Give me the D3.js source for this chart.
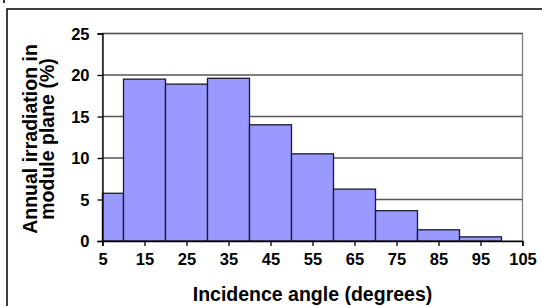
<!DOCTYPE html>
<html>
<head>
<meta charset="utf-8">
<script src="https://cdn.jsdelivr.net/npm/d3@7"></script>
<style>
html,body{margin:0;padding:0;background:#fff;}
svg{display:block;}
text{font-family:"Liberation Sans",Arial,sans-serif;font-weight:bold;fill:#000;}
</style>
</head>
<body>
<svg id="chart" width="542" height="306"></svg>
<script>
// Data
const binStart = [5, 10, 20, 30, 40, 50, 60, 70, 80, 90];
const binEnd   = [10, 20, 30, 40, 50, 60, 70, 80, 90, 100];
const values   = [5.75, 19.5, 18.9, 19.6, 14.0, 10.5, 6.25, 3.65, 1.35, 0.5];
const xTicks = [5, 15, 25, 35, 45, 55, 65, 75, 85, 95, 105];
const yTicks = [0, 5, 10, 15, 20, 25];
const xTitle = "Incidence angle (degrees)";
const yTitleLines = ["Annual irradiation in", "module plane (%)"];

const svg = d3.select("#chart");
const W = 542, H = 306;
const plot = {left: 102.5, right: 522.5, top: 33.5, bottom: 241};

const x = d3.scaleLinear().domain([5, 105]).range([plot.left, plot.right]);
const y = d3.scaleLinear().domain([0, 25]).range([plot.bottom, plot.top]);

// outer frame
svg.append("rect").attr("x", 7).attr("y", 9).attr("width", W).attr("height", H)
  .attr("fill", "none").attr("stroke", "#000").attr("stroke-width", 1.5);
// clipped glyph fragment at top-left
svg.append("rect").attr("x", 3).attr("y", 0).attr("width", 2).attr("height", 3).attr("fill", "#333");

// plot area border (gray)
svg.append("rect").attr("x", plot.left).attr("y", plot.top)
  .attr("width", plot.right - plot.left).attr("height", plot.bottom - plot.top)
  .attr("fill", "#fff").attr("stroke", "#808080").attr("stroke-width", 1.3);

// gridlines
svg.append("g").selectAll("line").data(yTicks.filter(d => d > 0)).join("line")
  .attr("x1", plot.left).attr("x2", plot.right)
  .attr("y1", d => y(d)).attr("y2", d => y(d))
  .attr("stroke", "#555").attr("stroke-width", 1.3);

// bars
svg.append("g").selectAll("rect").data(values).join("rect")
  .attr("x", (d, i) => x(binStart[i]))
  .attr("width", (d, i) => x(binEnd[i]) - x(binStart[i]))
  .attr("y", d => y(d))
  .attr("height", d => y(0) - y(d))
  .attr("fill", "#9999FF").attr("stroke", "#1a1a2e").attr("stroke-width", 1.3);

// axes
const yAxis = d3.axisLeft(y).tickValues(yTicks).tickSize(5).tickPadding(8).tickFormat(d3.format("d"));
const gy = svg.append("g").attr("transform", `translate(${plot.left},0)`).call(yAxis);
const xAxis = d3.axisBottom(x).tickValues(xTicks).tickSize(5).tickPadding(7).tickFormat(d3.format("d"));
const gx = svg.append("g").attr("transform", `translate(0,${plot.bottom})`).call(xAxis);
[gx, gy].forEach(g => {
  g.select(".domain").attr("stroke", "#000").attr("stroke-width", 1.3);
  g.selectAll(".tick line").attr("stroke", "#000").attr("stroke-width", 1.3);
  g.selectAll(".tick text").attr("font-size", 16.5).attr("font-family", "Liberation Sans, Arial, sans-serif")
    .attr("font-weight", "bold").attr("fill", "#000");
});
gy.selectAll(".tick text").attr("dy", "0.34em");
gx.selectAll(".tick text").attr("dy", "0.7em");

// x title
svg.append("text").attr("x", (plot.left + plot.right) / 2).attr("y", 301)
  .attr("text-anchor", "middle").attr("font-size", 19.5).text(xTitle);

// y title
const yt = svg.append("text").attr("transform", `translate(36.5,139) rotate(-90)`)
  .attr("text-anchor", "middle").attr("font-size", 19.5);
yTitleLines.forEach((t, i) => {
  yt.append("tspan").attr("x", 0).attr("y", i * 17).text(t);
});
</script>
</body>
</html>
